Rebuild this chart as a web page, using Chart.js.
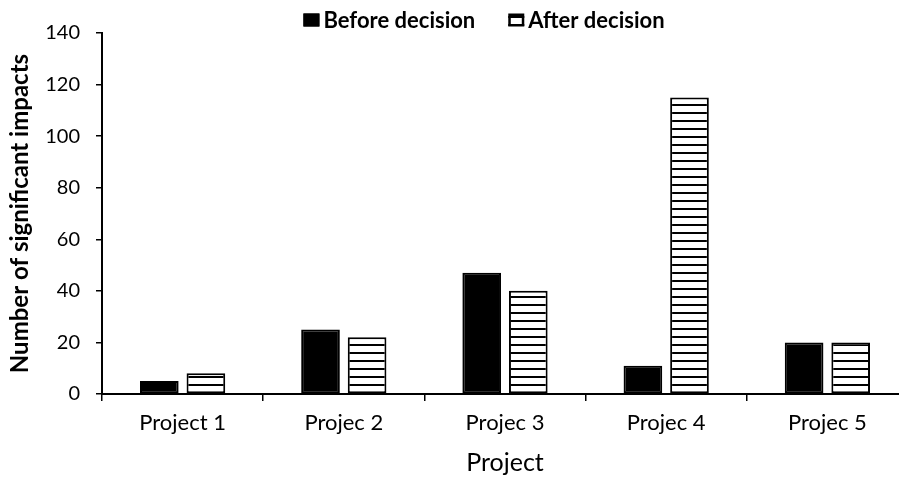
<!DOCTYPE html>
<html>
<head>
<meta charset="utf-8">
<script src="https://cdn.jsdelivr.net/npm/chart.js@4/dist/chart.umd.min.js"></script>
<style>
html,body{margin:0;padding:0;background:#fff;overflow:hidden;}
#wrap{width:908px;height:478px;position:relative;}
</style>
</head>
<body>
<div id="wrap"><canvas id="c"></canvas></div>
<script>
const categories = ["Project 1", "Projec 2", "Projec 3", "Projec 4", "Projec 5"];
const beforeValues = [5, 25, 47, 11, 20];
const afterValues = [8, 22, 40, 115, 20];
const seriesNames = ["Before decision", "After decision"];
const yTicks = [0, 20, 40, 60, 80, 100, 120, 140];
const xTitle = "Project";
const yTitle = "Number of significant impacts";

function stripePattern(){
  const p = document.createElement('canvas');
  p.width = 8; p.height = 8;
  const g = p.getContext('2d');
  g.fillStyle = '#fff'; g.fillRect(0,0,8,8);
  g.fillStyle = '#000'; g.fillRect(0,0,8,2);
  return document.getElementById('c').getContext('2d').createPattern(p,'repeat');
}

const FONT = "Lato, 'Open Sans', sans-serif";
Chart.defaults.font.family = FONT;
Chart.defaults.color = '#000';

const customLegend = {
  id: 'customLegend',
  afterDraw(chart) {
    const ctx = chart.ctx;
    ctx.save();
    ctx.font = `bold 22px ${FONT}`;
    ctx.textBaseline = 'middle';
    ctx.textAlign = 'left';
    const boxW = 16, boxH = 13, gapBT = 4, gapItems = 33, cx = 484, cy = 20;
    const items = chart.data.datasets.map(ds => ({label: ds.label, fill: ds.backgroundColor, w: ctx.measureText(ds.label).width}));
    let total = 0;
    items.forEach((it, i) => { total += boxW + gapBT + it.w + (i ? gapItems : 0); });
    let x = cx - total / 2;
    items.forEach((it) => {
      const by = cy - boxH / 2;
      ctx.fillStyle = it.fill;
      ctx.fillRect(x, by, boxW, boxH);
      ctx.lineWidth = 2.5;
      ctx.strokeStyle = '#000';
      ctx.strokeRect(x + 1.25, by + 1.25, boxW - 2.5, boxH - 2.5);
      ctx.fillStyle = '#000';
      ctx.fillText(it.label, x + boxW + gapBT, cy + 1);
      x += boxW + gapBT + it.w + gapItems;
    });
    ctx.restore();
  }
};

new Chart(document.getElementById('c'), {
  type: 'bar',
  data: {
    labels: categories,
    datasets: [
      {label: seriesNames[0], data: beforeValues, backgroundColor: '#000', borderColor: '#000', borderWidth: 2, borderSkipped: false},
      {label: seriesNames[1], data: afterValues, backgroundColor: stripePattern(), borderColor: '#000', borderWidth: 2, borderSkipped: false}
    ]
  },
  plugins: [customLegend],
  options: {
    responsive: true,
    maintainAspectRatio: false,
    animation: false,
    layout: {padding: {left: 0, right: 0, top: 33, bottom: 0}},
    datasets: {bar: {categoryPercentage: 0.578, barPercentage: 0.83}},
    plugins: {
      tooltip: {enabled: false},
      legend: {display: false}
    },
    scales: {
      x: {
        offset: true,
        afterFit: (s) => { s.height = 84; },
        grid: {display: true, offset: true, drawOnChartArea: false, drawTicks: true, tickLength: 7, color: '#000', lineWidth: 1.5},
        border: {display: true, color: '#000', width: 2},
        ticks: {font: {size: 22}, color: '#000', padding: 9},
        title: {display: true, text: xTitle, font: {size: 25}, color: '#000', padding: {top: 0, bottom: 0}}
      },
      y: {
        min: 0, max: 140,
        afterBuildTicks: (s) => { s.ticks = yTicks.map(v => ({value: v})); },
        afterFit: (s) => { s.width = 102; },
        grid: {display: true, drawOnChartArea: false, drawTicks: true, tickLength: 6, color: '#000', lineWidth: 1.5},
        border: {display: true, color: '#000', width: 2},
        ticks: {font: {size: 20}, color: '#000', padding: 16},
        title: {display: true, text: yTitle, font: {size: 24, weight: 'bold'}, color: '#000', padding: {top: 6, bottom: 0}}
      }
    }
  }
});
</script>
</body>
</html>
